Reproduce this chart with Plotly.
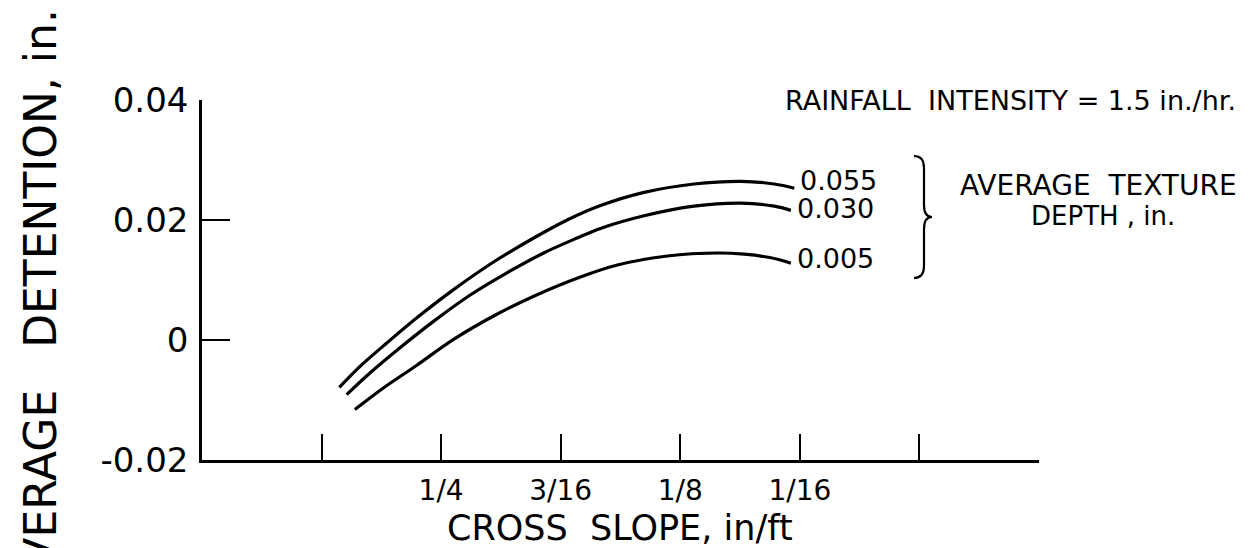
import plotly.graph_objects as go

# Cross slope (in/ft) and average detention (in.) for three texture depths
slope_055 = [0.3032, 0.2924, 0.2784, 0.2627, 0.2435, 0.2226, 0.2016, 0.1841, 0.1667, 0.1439, 0.1178, 0.0934, 0.0759, 0.0654]
det_055   = [-0.0079, -0.0044, -0.0005, 0.0037, 0.0084, 0.0130, 0.0170, 0.0200, 0.0224, 0.0246, 0.0260, 0.02645, 0.0260, 0.0253]

slope_030 = [0.2994, 0.2872, 0.2715, 0.2540, 0.2348, 0.2156, 0.1964, 0.1789, 0.1667, 0.1439, 0.1178, 0.0934, 0.0759, 0.0672]
det_030   = [-0.0091, -0.0055, -0.0013, 0.0031, 0.0075, 0.0112, 0.0145, 0.0170, 0.0186, 0.0207, 0.0223, 0.0228, 0.0223, 0.0216]

slope_005 = [0.2951, 0.2802, 0.2627, 0.2435, 0.2226, 0.2016, 0.1772, 0.1579, 0.1317, 0.1056, 0.0916, 0.0776, 0.0672]
det_005   = [-0.0116, -0.0080, -0.0042, 0.0001, 0.0040, 0.0073, 0.0105, 0.0125, 0.0140, 0.0145, 0.0143, 0.0137, 0.0128]

series_labels = ["0.055", "0.030", "0.005"]

x_tickvals = [0.3125, 0.25, 0.1875, 0.125, 0.0625, 0.0, -0.0625]
x_ticktext = ["", "1/4", "3/16", "1/8", "1/16", "", ""]
y_tickvals = [-0.02, 0.0, 0.02, 0.04]
y_ticktext = ["-0.02", "0", "0.02", "0.04"]

W, H = 1260, 548
L, R, T, B = 194, 229, 92, 96
PW, PH = W - L - R, H - T - B

def px(x):
    return (x - L) / PW

def py(y):
    return (H - B - y) / PH

FONT = "DejaVu Sans"

fig = go.Figure()
series = [(slope_055, det_055), (slope_030, det_030), (slope_005, det_005)]
for (xs, ys), lab in zip(series, series_labels):
    fig.add_trace(go.Scatter(x=xs, y=ys, mode="lines", name=lab,
                             line=dict(color="black", width=3.2, shape="spline", smoothing=1.0),
                             showlegend=False))

# curve end labels anchored to data ends
yshifts = [8, 2, 5]
for (xs, ys), lab, ys_ in zip(series, series_labels, yshifts):
    fig.add_annotation(x=xs[-1], y=ys[-1], xref="x", yref="y", text=lab, showarrow=False,
                       xanchor="left", yanchor="middle", xshift=4, yshift=ys_,
                       font=dict(family=FONT, size=27, color="black"))

# bracket
bx0, bx1, bxm = 906, 916, 924
yt, ym, yb = 148, 209, 270
path = (f"M {px(bx0)},{py(yt)} Q {px(bx1)},{py(yt)} {px(bx1)},{py(yt+12)} "
        f"L {px(bx1)},{py(ym-12)} Q {px(bx1)},{py(ym)} {px(bxm)},{py(ym)} "
        f"Q {px(bx1)},{py(ym)} {px(bx1)},{py(ym+12)} "
        f"L {px(bx1)},{py(yb-12)} Q {px(bx1)},{py(yb)} {px(bx0)},{py(yb)}")
fig.add_shape(type="path", path=path, xref="paper", yref="paper",
              line=dict(color="black", width=2.2))

texts = [
    ("AVERAGE  TEXTURE", 1090, 177, "center", 28),
    ("DEPTH , in.", 1095, 208, "center", 26),
    ("RAINFALL  INTENSITY = 1.5 in./hr.", 1230, 92, "right", 27),
    ("CROSS  SLOPE, in/ft", 612, 520, "center", 35),
]
for t, x, y, xa, s in texts:
    fig.add_annotation(x=px(x), y=py(y), xref="paper", yref="paper", text=t,
                       showarrow=False, xanchor=xa, yanchor="middle",
                       font=dict(family=FONT, size=s, color="black"))

fig.add_annotation(x=px(32), y=py(294), xref="paper", yref="paper",
                   text="AVERAGE   DETENTION, in.", textangle=-90, showarrow=False,
                   xanchor="center", yanchor="middle",
                   font=dict(family=FONT, size=44, color="black"))

fig.update_xaxes(range=[0.375, -0.0625], tickvals=x_tickvals, ticktext=x_ticktext,
                 ticks="inside", ticklen=26, tickwidth=2, tickcolor="black",
                 showline=True, linewidth=2.5, linecolor="black",
                 showgrid=False, zeroline=False, ticklabelstandoff=4,
                 tickfont=dict(family=FONT, size=28, color="black"))
fig.update_yaxes(range=[-0.02, 0.04], tickvals=y_tickvals, ticktext=y_ticktext,
                 ticks="inside", ticklen=28, tickwidth=2, tickcolor="black",
                 showline=True, linewidth=2.5, linecolor="black",
                 showgrid=False, zeroline=False, ticklabelstandoff=4,
                 tickfont=dict(family=FONT, size=34, color="black"))

fig.update_layout(width=W, height=H, margin=dict(l=L, r=R, t=T, b=B, autoexpand=False),
                  paper_bgcolor="white", plot_bgcolor="white", showlegend=False)

fig.write_html("out.html")
